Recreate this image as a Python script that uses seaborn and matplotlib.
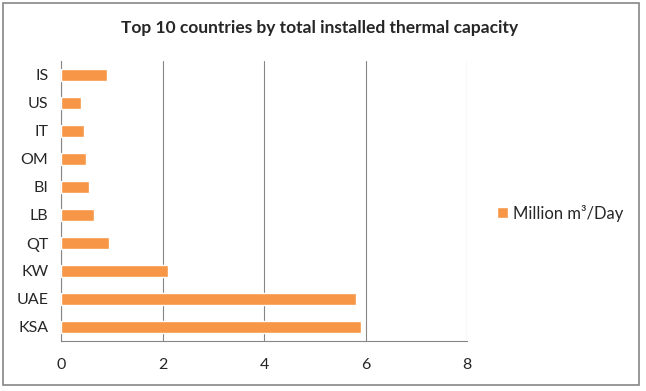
import matplotlib
matplotlib.use("Agg")
import matplotlib.pyplot as plt
import seaborn as sns
import pandas as pd
import numpy as np
from matplotlib.patches import Rectangle

countries = ["IS", "US", "IT", "OM", "BI", "LB", "QT", "KW", "UAE", "KSA"]
capacity = [0.90, 0.40, 0.45, 0.50, 0.55, 0.65, 0.95, 2.11, 5.81, 5.92]
x_ticks = [0, 2, 4, 6, 8]
series_name = "Million m³/Day"
title = "Top 10 countries by total installed thermal capacity"

df = pd.DataFrame({"country": countries, "value": capacity})

sns.set_style("white")
plt.rcParams["font.family"] = ["Lato", "DejaVu Sans"]

grey = "#868686"
orange = "#F79646"

fig = plt.figure(figsize=(6.46, 3.91), dpi=100)
ax = fig.add_axes([61 / 646, 1 - 341 / 391, 406 / 646, 280 / 391])

sns.barplot(data=df, x="value", y="country", order=countries, color=orange,
            width=0.4, saturation=1, ax=ax, zorder=3)

ax.set_xlim(0, 8)
ax.set_ylim(len(countries) - 0.5, -0.5)
ax.set_xticks(x_ticks)
ax.set_xticklabels([str(t) for t in x_ticks], fontsize=11.5)
ax.set_xlabel("")
ax.set_ylabel("")
ax.tick_params(axis="y", length=0, labelsize=11.5, pad=9)
ax.set_yticks(np.arange(-0.5, len(countries)), minor=True)
ax.tick_params(axis="y", which="minor", length=5, color=grey, width=0.8)
ax.tick_params(axis="x", length=5, color=grey, width=0.8, pad=7, direction="out")
ax.xaxis.grid(True, color=grey, linewidth=0.8, zorder=0)
ax.set_axisbelow(True)
for s in ["top", "right"]:
    ax.spines[s].set_visible(False)
for s in ["left", "bottom"]:
    ax.spines[s].set_color(grey)
    ax.spines[s].set_linewidth(0.8)

ax.legend([ax.containers[0]], [series_name], loc="center left",
          bbox_to_anchor=(490 / 646, 1 - 213 / 391), bbox_transform=fig.transFigure,
          frameon=False, fontsize=12, handlelength=0.65, handleheight=0.65,
          handletextpad=0.35, borderaxespad=0)

fig.text(320 / 646, 1 - 28 / 391, title, ha="center", va="center",
         fontsize=12.5, fontweight="bold")

fig.patches.append(Rectangle((3 / 646, 1 - 385 / 391), 636 / 646, 382 / 391,
                             transform=fig.transFigure, fill=False,
                             edgecolor=grey, linewidth=1.2))

fig.savefig("out.png", dpi=100)
